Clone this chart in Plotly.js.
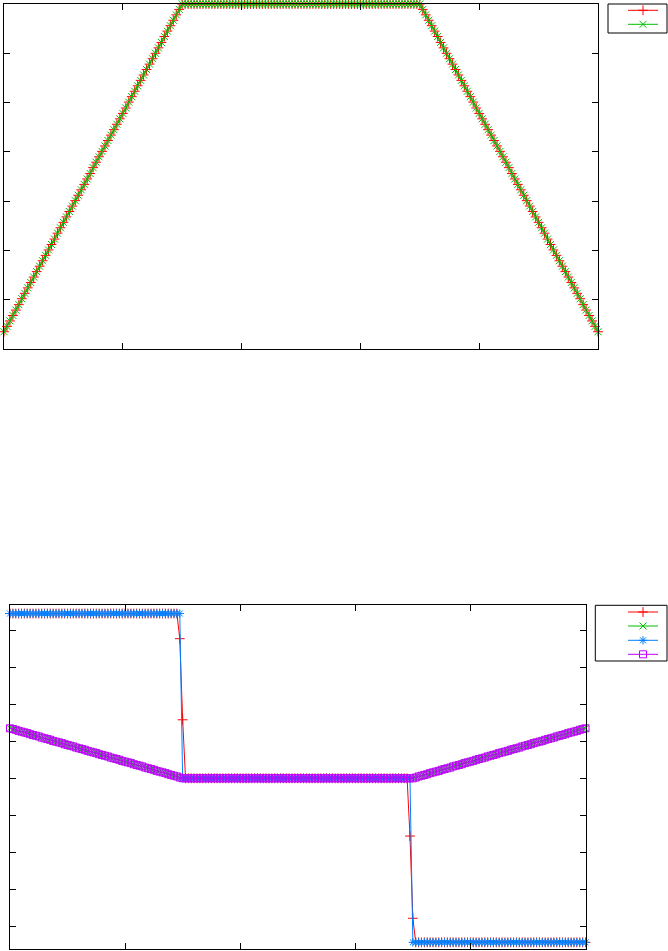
<!DOCTYPE html>
<html>
<head>
<meta charset="utf-8">
<script src="https://cdn.plot.ly/plotly-3.0.1.min.js"></script>
<style>html,body{margin:0;padding:0;background:#fff;}#chart{width:668px;height:951px;}</style>
</head>
<body>
<div id="chart"></div>
<script>
// ---- data (sample index 0..200 is implicit x) ----
var topRamp = [
0.35,0.46,0.57,0.68,0.79,0.90,1.02,1.13,1.24,1.35,
1.46,1.57,1.68,1.79,1.90,2.01,2.12,2.23,2.35,2.46,
2.57,2.68,2.79,2.90,3.01,3.12,3.23,3.34,3.45,3.56,
3.68,3.79,3.90,4.01,4.12,4.23,4.34,4.45,4.56,4.67,
4.78,4.89,5.01,5.12,5.23,5.34,5.45,5.56,5.67,5.78,
5.89,6.00,6.11,6.22,6.34,6.45,6.56,6.67,6.78,6.89,
7,7,7,7,7,7,7,7,7,7,
7,7,7,7,7,7,7,7,7,7,
7,7,7,7,7,7,7,7,7,7,
7,7,7,7,7,7,7,7,7,7,
7,7,7,7,7,7,7,7,7,7,
7,7,7,7,7,7,7,7,7,7,
7,7,7,7,7,7,7,7,7,7,
7,7,7,7,7,7,7,7,7,7,
7,6.89,6.78,6.67,6.56,6.45,6.34,6.22,6.11,6.00,
5.89,5.78,5.67,5.56,5.45,5.34,5.23,5.12,5.01,4.89,
4.78,4.67,4.56,4.45,4.34,4.23,4.12,4.01,3.90,3.79,
3.68,3.56,3.45,3.34,3.23,3.12,3.01,2.90,2.79,2.68,
2.57,2.46,2.35,2.23,2.12,2.01,1.90,1.79,1.68,1.57,
1.46,1.35,1.24,1.13,1.02,0.90,0.79,0.68,0.57,0.46,
0.35];

var bottomV = [
1.35,1.33,1.31,1.28,1.26,1.24,1.22,1.19,1.17,1.15,
1.13,1.10,1.08,1.06,1.04,1.01,0.99,0.97,0.95,0.92,
0.90,0.88,0.86,0.83,0.81,0.79,0.77,0.74,0.72,0.70,
0.68,0.65,0.63,0.61,0.59,0.56,0.54,0.52,0.50,0.47,
0.45,0.43,0.41,0.38,0.36,0.34,0.32,0.29,0.27,0.25,
0.23,0.20,0.18,0.16,0.14,0.11,0.09,0.07,0.05,0.02,
0,0,0,0,0,0,0,0,0,0,
0,0,0,0,0,0,0,0,0,0,
0,0,0,0,0,0,0,0,0,0,
0,0,0,0,0,0,0,0,0,0,
0,0,0,0,0,0,0,0,0,0,
0,0,0,0,0,0,0,0,0,0,
0,0,0,0,0,0,0,0,0,0,
0,0,0,0,0,0,0,0,0,0,
0,0.02,0.05,0.07,0.09,0.11,0.14,0.16,0.18,0.20,
0.23,0.25,0.27,0.29,0.32,0.34,0.36,0.38,0.41,0.43,
0.45,0.47,0.50,0.52,0.54,0.56,0.59,0.61,0.63,0.65,
0.68,0.70,0.72,0.74,0.77,0.79,0.81,0.83,0.86,0.88,
0.90,0.92,0.95,0.97,0.99,1.01,1.04,1.06,1.08,1.10,
1.13,1.15,1.17,1.19,1.22,1.24,1.26,1.28,1.31,1.33,
1.35];

var phaseRed = [
4.45,4.45,4.45,4.45,4.45,4.45,4.45,4.45,4.45,4.45,
4.45,4.45,4.45,4.45,4.45,4.45,4.45,4.45,4.45,4.45,
4.45,4.45,4.45,4.45,4.45,4.45,4.45,4.45,4.45,4.45,
4.45,4.45,4.45,4.45,4.45,4.45,4.45,4.45,4.45,4.45,
4.45,4.45,4.45,4.45,4.45,4.45,4.45,4.45,4.45,4.45,
4.45,4.45,4.45,4.45,4.45,4.45,4.45,4.45,4.45,3.77,
1.58,0,0,0,0,0,0,0,0,0,
0,0,0,0,0,0,0,0,0,0,
0,0,0,0,0,0,0,0,0,0,
0,0,0,0,0,0,0,0,0,0,
0,0,0,0,0,0,0,0,0,0,
0,0,0,0,0,0,0,0,0,0,
0,0,0,0,0,0,0,0,0,0,
0,0,0,0,0,0,0,0,0,-1.56,
-3.78,-4.43,-4.43,-4.43,-4.43,-4.43,-4.43,-4.43,-4.43,-4.43,
-4.43,-4.43,-4.43,-4.43,-4.43,-4.43,-4.43,-4.43,-4.43,-4.43,
-4.43,-4.43,-4.43,-4.43,-4.43,-4.43,-4.43,-4.43,-4.43,-4.43,
-4.43,-4.43,-4.43,-4.43,-4.43,-4.43,-4.43,-4.43,-4.43,-4.43,
-4.43,-4.43,-4.43,-4.43,-4.43,-4.43,-4.43,-4.43,-4.43,-4.43,
-4.43,-4.43,-4.43,-4.43,-4.43,-4.43,-4.43,-4.43,-4.43,-4.43,
-4.43];

var phaseBlue = [
4.45,4.45,4.45,4.45,4.45,4.45,4.45,4.45,4.45,4.45,
4.45,4.45,4.45,4.45,4.45,4.45,4.45,4.45,4.45,4.45,
4.45,4.45,4.45,4.45,4.45,4.45,4.45,4.45,4.45,4.45,
4.45,4.45,4.45,4.45,4.45,4.45,4.45,4.45,4.45,4.45,
4.45,4.45,4.45,4.45,4.45,4.45,4.45,4.45,4.45,4.45,
4.45,4.45,4.45,4.45,4.45,4.45,4.45,4.45,4.45,4.45,
0,0,0,0,0,0,0,0,0,0,
0,0,0,0,0,0,0,0,0,0,
0,0,0,0,0,0,0,0,0,0,
0,0,0,0,0,0,0,0,0,0,
0,0,0,0,0,0,0,0,0,0,
0,0,0,0,0,0,0,0,0,0,
0,0,0,0,0,0,0,0,0,0,
0,0,0,0,0,0,0,0,0,0,
-4.43,-4.43,-4.43,-4.43,-4.43,-4.43,-4.43,-4.43,-4.43,-4.43,
-4.43,-4.43,-4.43,-4.43,-4.43,-4.43,-4.43,-4.43,-4.43,-4.43,
-4.43,-4.43,-4.43,-4.43,-4.43,-4.43,-4.43,-4.43,-4.43,-4.43,
-4.43,-4.43,-4.43,-4.43,-4.43,-4.43,-4.43,-4.43,-4.43,-4.43,
-4.43,-4.43,-4.43,-4.43,-4.43,-4.43,-4.43,-4.43,-4.43,-4.43,
-4.43,-4.43,-4.43,-4.43,-4.43,-4.43,-4.43,-4.43,-4.43,-4.43,
-4.43];

// ---- styling ----
var W = 668, H = 951;
var RED = '#ff0000', GREEN = '#00c000', BLUE = '#0080ff', PURPLE = '#c000ff';
function px(x){ return x / W; }
function py(y){ return (H - y) / H; }

function tr(y, color, symbol, xa, ya, leg){
  return {
    y: y, x0: 0, dx: 1, type: 'scatter', mode: 'lines+markers',
    xaxis: xa, yaxis: ya, legend: leg, name: '', showlegend: true,
    line: {color: color, width: 1},
    marker: {symbol: symbol, size: 7, color: color, line: {color: color, width: 1}},
    cliponaxis: false, connectgaps: true, hoverinfo: 'skip'
  };
}

var data = [
  tr(topRamp, RED, 'cross-thin-open', 'x', 'y', 'legend'),
  tr(topRamp, GREEN, 'x-thin-open', 'x', 'y', 'legend2'),
  tr(phaseRed, RED, 'cross-thin-open', 'x2', 'y2', 'legend3'),
  tr(bottomV, GREEN, 'x-thin-open', 'x2', 'y2', 'legend4'),
  tr(phaseBlue, BLUE, 'asterisk-open', 'x2', 'y2', 'legend5'),
  tr(bottomV, PURPLE, 'square-open', 'x2', 'y2', 'legend6')
];

function axis(extra){
  var a = {
    showline: true, linecolor: '#000', linewidth: 1, mirror: 'ticks',
    ticks: 'inside', ticklen: 6, tickcolor: '#000', tickwidth: 1,
    showticklabels: false, showgrid: false, zeroline: false, fixedrange: true,
    automargin: false
  };
  for (var k in extra) a[k] = extra[k];
  return a;
}

var LEGX = 628 - 5;
function leg(yc){
  return {x: px(LEGX), xanchor: 'left', y: py(yc), yanchor: 'middle',
    bgcolor: 'rgba(0,0,0,0)', borderwidth: 0, itemwidth: 30,
    font: {family: 'DejaVu Sans', size: 10, color: '#000'}};
}

var layout = {
  width: W, height: H,
  margin: {l: 0, r: 0, t: 0, b: 0, pad: 0, autoexpand: false},
  paper_bgcolor: '#fff', plot_bgcolor: '#fff',
  font: {family: 'DejaVu Sans', size: 10, color: '#000'},
  xaxis: axis({domain: [px(4), px(598)], range: [0, 200], tick0: 0, dtick: 40, anchor: 'y'}),
  yaxis: axis({domain: [py(349), py(4)], range: [0, 7], tick0: 0, dtick: 1, anchor: 'x'}),
  xaxis2: axis({domain: [px(10), px(585.5)], range: [0, 200], tick0: 0, dtick: 40, anchor: 'y2'}),
  yaxis2: axis({domain: [py(949), py(605)], range: [-4.61, 4.68], tick0: 0, dtick: 1, anchor: 'x2'}),
  legend: leg(10.3),
  legend2: leg(24.3),
  legend3: leg(612),
  legend4: leg(626),
  legend5: leg(640.3),
  legend6: leg(654.3),
  shapes: [
    {type: 'rect', xref: 'paper', yref: 'paper', x0: px(608), x1: px(667), y0: py(33), y1: py(4),
     line: {color: '#000', width: 1}, fillcolor: 'rgba(0,0,0,0)'},
    {type: 'rect', xref: 'paper', yref: 'paper', x0: px(595.3), x1: px(667), y0: py(661), y1: py(605.3),
     line: {color: '#000', width: 1}, fillcolor: 'rgba(0,0,0,0)'}
  ],
  showlegend: true
};

Plotly.newPlot('chart', data, layout, {displayModeBar: false, staticPlot: true});
</script>
</body>
</html>
